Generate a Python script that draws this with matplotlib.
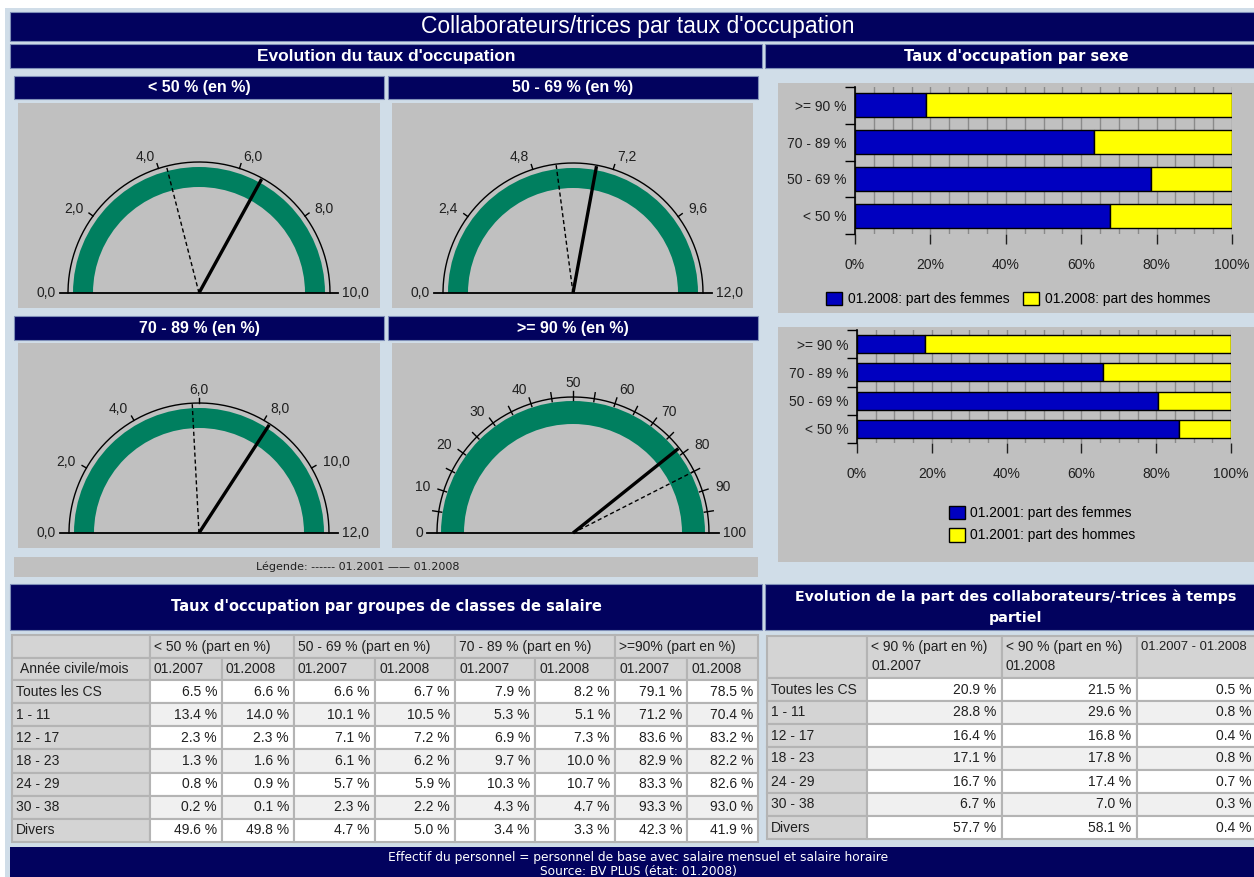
import numpy as np
import matplotlib.pyplot as plt
from matplotlib.patches import Rectangle, Wedge

# --- data ---
gauge_titles = ['< 50 % (en %)', '50 - 69 % (en %)', '70 - 89 % (en %)', '>= 90 % (en %)']
gauge_max = [10, 12, 12, 100]
gauge_ticks = [[0, 2, 4, 6, 8, 10],
               [0, 2.4, 4.8, 7.2, 9.6, 12],
               [0, 2, 4, 6, 8, 10, 12],
               list(range(0, 101, 10))]
gauge_2001 = [4.2, 5.5, 5.8, 85.0]
gauge_2008 = [6.6, 6.7, 8.2, 78.5]

sex_cats = ['< 50 %', '50 - 69 %', '70 - 89 %', '>= 90 %']
women_2008 = [67.6, 78.4, 63.4, 18.8]
women_2001 = [86.1, 80.5, 65.8, 18.2]

row_labels = ['Toutes les CS', '1 - 11', '12 - 17', '18 - 23', '24 - 29', '30 - 38', 'Divers']
groups = ['< 50 % (part en %)', '50 - 69 % (part en %)', '70 - 89 % (part en %)', '>=90% (part en %)']
months = ['01.2007', '01.2008']
lt50_07 = [6.5, 13.4, 2.3, 1.3, 0.8, 0.2, 49.6]
lt50_08 = [6.6, 14.0, 2.3, 1.6, 0.9, 0.1, 49.8]
r5069_07 = [6.6, 10.1, 7.1, 6.1, 5.7, 2.3, 4.7]
r5069_08 = [6.7, 10.5, 7.2, 6.2, 5.9, 2.2, 5.0]
r7089_07 = [7.9, 5.3, 6.9, 9.7, 10.3, 4.3, 3.4]
r7089_08 = [8.2, 5.1, 7.3, 10.0, 10.7, 4.7, 3.3]
ge90_07 = [79.1, 71.2, 83.6, 82.9, 83.3, 93.3, 42.3]
ge90_08 = [78.5, 70.4, 83.2, 82.2, 82.6, 93.0, 41.9]

pt_headers = [['< 90 % (part en %)', '01.2007'], ['< 90 % (part en %)', '01.2008'], ['01.2007 - 01.2008']]
pt_07 = [20.9, 28.8, 16.4, 17.1, 16.7, 6.7, 57.7]
pt_08 = [21.5, 29.6, 16.8, 17.8, 17.4, 7.0, 58.1]
pt_diff = [0.5, 0.8, 0.4, 0.8, 0.7, 0.3, 0.4]

# --- style ---
W, H = 1254, 877
NAVY = '#02025e'
PAGE = '#d0dde8'
PANEL = '#c0c0c0'
GREEN = '#007f5f'
BLUE = '#0000c0'
YELLOW = '#ffff00'
NARROW = ['Liberation Sans Narrow', 'Liberation Sans', 'DejaVu Sans']
ARIAL = ['Liberation Sans', 'DejaVu Sans']
VERD = ['DejaVu Sans']

fig = plt.figure(figsize=(W / 100, H / 100), dpi=100)
fig.patch.set_facecolor('white')
bg = fig.add_axes([0, 0, 1, 1])
bg.set_xlim(0, W)
bg.set_ylim(H, 0)
bg.axis('off')


def box(x0, y0, x1, y1, fc, ec='none', lw=0):
    bg.add_patch(Rectangle((x0, y0), x1 - x0, y1 - y0, facecolor=fc, edgecolor=ec, linewidth=lw))


def header(x0, y0, x1, y1, text, tx=None, **kw):
    box(x0, y0, x1, y1, NAVY, ec='#7f8fb8', lw=0.8)
    bg.text((x0 + x1) / 2 if tx is None else tx, (y0 + y1) / 2, text, color='white',
            ha='center', va='center', **kw)


def px_axes(x0, y0, x1, y1):
    return fig.add_axes([x0 / W, 1 - y1 / H, (x1 - x0) / W, (y1 - y0) / H])


# page background
box(5, 8, W + 5, H + 5, PAGE)

header(10, 12, W + 5, 41, "Collaborateurs/trices par taux d'occupation",
       tx=638, family=NARROW, fontsize=16.5)
header(10, 44, 762, 68, "Evolution du taux d'occupation", family=NARROW,
       fontsize=12.5, fontweight='bold')
header(765, 44, W + 5, 68, "Taux d'occupation par sexe", tx=1016, family=VERD,
       fontsize=10.5, fontweight='bold')

# --- gauges ---
panels = [(18, 103, 380, 308), (392, 103, 753, 308), (18, 343, 380, 548), (392, 343, 753, 548)]
heads = [(14, 76, 384, 99), (388, 76, 758, 99), (14, 316, 384, 340), (388, 316, 758, 340)]
centers = [(199, 293), (573, 293), (199, 533), (573, 533)]
geo = [dict(r_arc=131, r_out=126, r_in=106, r_base=139, r_lab=143),
       dict(r_arc=130, r_out=125, r_in=105, r_base=139, r_lab=143),
       dict(r_arc=130, r_out=125, r_in=105, r_base=139, r_lab=143),
       dict(r_arc=136, r_out=132, r_in=109, r_base=146, r_lab=150)]

for i in range(4):
    hx0, hy0, hx1, hy1 = heads[i]
    header(hx0, hy0, hx1, hy1, gauge_titles[i], family=NARROW, fontsize=11.5, fontweight='bold')
    px0, py0, px1, py1 = panels[i]
    cx, cy = centers[i]
    g = geo[i]
    ax = px_axes(px0, py0, px1, py1)
    ax.set_xlim(px0 - cx, px1 - cx)
    ax.set_ylim(cy - py1, cy - py0)
    ax.set_facecolor(PANEL)
    for s in ax.spines.values():
        s.set_visible(False)
    ax.set_xticks([])
    ax.set_yticks([])
    vmax = gauge_max[i]

    ax.add_patch(Wedge((0, 0), g['r_out'], 0, 180, width=g['r_out'] - g['r_in'],
                       facecolor=GREEN, edgecolor='none'))
    t = np.linspace(0, np.pi, 200)
    ax.plot(g['r_arc'] * np.cos(t), g['r_arc'] * np.sin(t), color='black', lw=1)
    ax.plot([-g['r_base'], g['r_base']], [0, 0], color='black', lw=1.3)

    # tick marks
    if vmax == 100:
        marks = np.arange(5, 100, 5)
    else:
        marks = gauge_ticks[i][1:-1]
    for v in marks:
        a = np.pi * (1 - v / vmax)
        r0, r1 = (g['r_arc'] - 3, g['r_arc'] + 6) if vmax == 100 else (g['r_arc'], g['r_arc'] + 5)
        ax.plot([r0 * np.cos(a), r1 * np.cos(a)], [r0 * np.sin(a), r1 * np.sin(a)],
                color='black', lw=1)

    # tick labels
    for v in gauge_ticks[i]:
        a = np.pi * (1 - v / vmax)
        lab = f'{v:.0f}' if vmax == 100 else f'{v:.1f}'.replace('.', ',')
        if v == 0 or v == vmax:
            r = g['r_base'] + 4
            ax.text(np.cos(a) * r, 0, lab, ha='right' if v == 0 else 'left', va='center',
                    family=ARIAL, fontsize=10, color='#202020')
            continue
        c, s = np.cos(a), np.sin(a)
        ha = 'right' if c < -0.15 else ('left' if c > 0.15 else 'center')
        ax.text(g['r_lab'] * c, g['r_lab'] * s, lab, ha=ha, va='center',
                family=ARIAL, fontsize=10, color='#202020')

    # needles
    a01 = np.pi * (1 - gauge_2001[i] / vmax)
    a08 = np.pi * (1 - gauge_2008[i] / vmax)
    rn = g['r_arc'] - 1
    ax.plot([0, rn * np.cos(a01)], [0, rn * np.sin(a01)], color='black', lw=1,
            dashes=(3, 2))
    ax.plot([0, rn * np.cos(a08)], [0, rn * np.sin(a08)], color='black', lw=2.4,
            solid_capstyle='butt')

# gauge legend strip
box(14, 557, 758, 577, PANEL)
bg.text(358, 567, 'Légende: ------ 01.2001 —— 01.2008', ha='center', va='center',
        family=VERD, fontsize=8, color='#202020')

# --- bar panels (share women / men) ---
box(778, 83, W + 5, 313, PANEL)
box(778, 327, W + 5, 562, PANEL)


def share_chart(bounds, women, year, bar_h, legend_pos, ncol):
    ax = px_axes(*bounds)
    ax.set_facecolor(PANEL)
    y = np.arange(len(sex_cats))
    men = [100 - w for w in women]
    ax.barh(y, women, height=bar_h, color=BLUE, edgecolor='black', lw=1, zorder=3,
            label=f'{year}: part des femmes')
    ax.barh(y, men, left=women, height=bar_h, color=YELLOW, edgecolor='black', lw=1,
            zorder=3, label=f'{year}: part des hommes')
    ax.set_xlim(0, 100)
    ax.set_ylim(-0.5, len(sex_cats) - 0.5)
    ax.set_xticks(np.arange(0, 101, 20))
    ax.set_xticklabels([f'{v}%' for v in range(0, 101, 20)])
    ax.set_xticks(np.arange(0, 101, 5), minor=True)
    ax.grid(axis='x', which='both', color='#8a8a8a', lw=1, zorder=0)
    ax.set_yticks(np.arange(-0.5, len(sex_cats), 1))
    ax.set_yticklabels([])
    ax.set_yticks(y, minor=True)
    ax.set_yticklabels(sex_cats, minor=True)
    for s in ['top', 'right', 'bottom']:
        ax.spines[s].set_visible(False)
    ax.spines['left'].set_color('black')
    ax.spines['left'].set_linewidth(1.2)
    ax.tick_params(axis='x', which='major', length=7, width=1, pad=10, labelsize=10,
                   colors='#202020')
    ax.tick_params(axis='x', which='minor', length=0)
    ax.tick_params(axis='y', which='major', length=7, width=1)
    ax.tick_params(axis='y', which='minor', length=0, pad=6, labelsize=10,
                   colors='#202020')
    for lab in ax.get_xticklabels() + ax.get_yticklabels(minor=True):
        lab.set_family(ARIAL)
    ax.legend(loc='center', bbox_to_anchor=(legend_pos[0] / W, 1 - legend_pos[1] / H),
              bbox_transform=fig.transFigure, ncol=ncol, frameon=False,
              prop={'family': ARIAL, 'size': 10}, handlelength=1.15,
              handleheight=1.15, handletextpad=0.4, columnspacing=1.0,
              labelspacing=0.55)
    return ax


share_chart((855, 87, 1232, 234), women_2008, '01.2008', 0.65, (1018, 299), 2)
share_chart((857, 330, 1231, 443), women_2001, '01.2001', 0.64, (1042, 524), 1)

# --- table headers ---
header(10, 584, 762, 630, "Taux d'occupation par groupes de classes de salaire",
       tx=386, family=VERD, fontsize=10.5, fontweight='bold')
header(765, 584, W + 5, 630, '', tx=1016)
bg.text(1016, 597, 'Evolution de la part des collaborateurs/-trices à temps', color='white',
        ha='center', va='center', family=VERD, fontsize=10.3, fontweight='bold')
bg.text(1016, 618, 'partiel', color='white', ha='center', va='center', family=VERD,
        fontsize=10.3, fontweight='bold')

GRID = '#b4b4b4'
HEAD = '#d4d4d4'
ALT = '#f0f0f0'
TXT = '#202020'

# --- table 1 ---
cols1 = [12, 150, 222, 294, 375, 455, 535, 615, 687, 758]
table1 = [lt50_07, lt50_08, r5069_07, r5069_08, r7089_07, r7089_08, ge90_07, ge90_08]
hy = [635, 658, 680]
rh = (842 - 680) / len(row_labels)

box(cols1[0], hy[0], cols1[1], hy[1], HEAD, GRID, 1.5)
box(cols1[0], hy[1], cols1[1], hy[2], HEAD, GRID, 1.5)
bg.text(cols1[0] + 8, (hy[1] + hy[2]) / 2, 'Année civile/mois', ha='left', va='center',
        family=ARIAL, fontsize=10, color=TXT)
for g, name in enumerate(groups):
    x0, x1 = cols1[1 + 2 * g], cols1[3 + 2 * g]
    box(x0, hy[0], x1, hy[1], HEAD, GRID, 1.5)
    bg.text(x0 + 4, (hy[0] + hy[1]) / 2, name, ha='left', va='center', family=ARIAL,
            fontsize=10, color=TXT)
for c in range(8):
    x0, x1 = cols1[1 + c], cols1[2 + c]
    box(x0, hy[1], x1, hy[2], HEAD, GRID, 1.5)
    bg.text(x0 + 4, (hy[1] + hy[2]) / 2, months[c % 2], ha='left', va='center',
            family=ARIAL, fontsize=10, color=TXT)
for r, lab in enumerate(row_labels):
    y0 = hy[2] + r * rh
    fc = ALT if r % 2 else 'white'
    box(cols1[0], y0, cols1[1], y0 + rh, HEAD, GRID, 1.5)
    bg.text(cols1[0] + 4, y0 + rh / 2, lab, ha='left', va='center', family=ARIAL,
            fontsize=10, color=TXT)
    for c in range(8):
        x0, x1 = cols1[1 + c], cols1[2 + c]
        box(x0, y0, x1, y0 + rh, fc, GRID, 1.5)
        bg.text(x1 - 5, y0 + rh / 2, f'{table1[c][r]:.1f} %', ha='right', va='center',
                family=ARIAL, fontsize=10, color=TXT)

# --- table 2 ---
cols2 = [767, 867, 1002, 1137, 1258]
table2 = [pt_07, pt_08, pt_diff]
hy2 = [636, 678]
rh2 = (839 - 678) / len(row_labels)
box(cols2[0], hy2[0], cols2[1], hy2[1], HEAD, GRID, 1.5)
for c in range(3):
    x0, x1 = cols2[1 + c], cols2[2 + c]
    box(x0, hy2[0], x1, hy2[1], HEAD, GRID, 1.5)
    for k, line in enumerate(pt_headers[c]):
        bg.text(x0 + 4, hy2[0] + 11 + 19 * k, line, ha='left', va='center',
                family=ARIAL, fontsize=10 if c < 2 else 9.4, color=TXT)
for r, lab in enumerate(row_labels):
    y0 = hy2[1] + r * rh2
    fc = ALT if r % 2 else 'white'
    box(cols2[0], y0, cols2[1], y0 + rh2, HEAD, GRID, 1.5)
    bg.text(cols2[0] + 4, y0 + rh2 / 2, lab, ha='left', va='center', family=ARIAL,
            fontsize=10, color=TXT)
    for c in range(3):
        x0, x1 = cols2[1 + c], cols2[2 + c]
        box(x0, y0, x1, y0 + rh2, fc, GRID, 1.5)
        bg.text(x1 - 6, y0 + rh2 / 2, f'{table2[c][r]:.1f} %', ha='right', va='center',
                family=ARIAL, fontsize=10, color=TXT)

# --- footer ---
box(10, 847, W + 5, H + 5, NAVY)
bg.text(638, 857, 'Effectif du personnel = personnel de base avec salaire mensuel et salaire horaire',
        ha='center', va='center', color='white', family=VERD, fontsize=8.8)
bg.text(638, 871, 'Source: BV PLUS (état: 01.2008)', ha='center', va='center',
        color='white', family=VERD, fontsize=8.8)

fig.savefig('out.png', dpi=100, facecolor=fig.get_facecolor())
